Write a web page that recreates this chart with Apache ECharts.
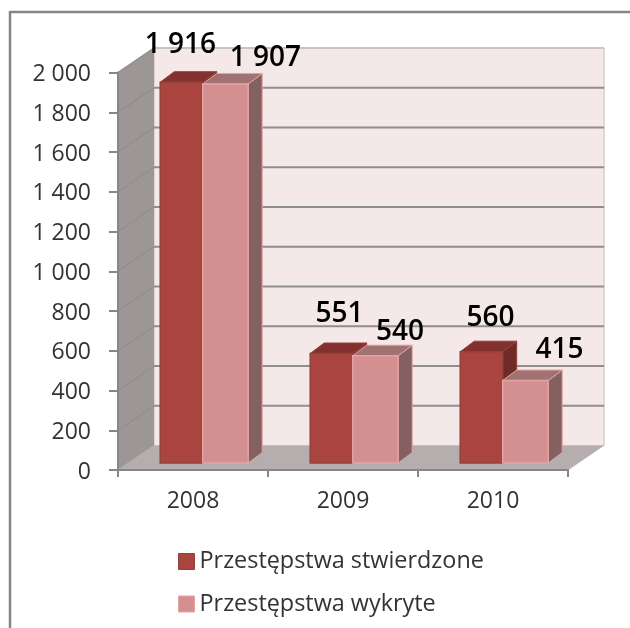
<!DOCTYPE html>
<html>
<head>
<meta charset="utf-8">
<style>html,body{margin:0;padding:0;background:#fff}#c{width:630px;height:628px}</style>
<script src="https://cdn.jsdelivr.net/npm/echarts@6/dist/echarts.min.js"></script>
</head>
<body>
<div id="c"></div>
<script>
const categories = ['2008', '2009', '2010'];
const stwierdzone = [1916, 551, 560];
const wykryte = [1907, 540, 415];
const seriesNames = ['Przestępstwa stwierdzone', 'Przestępstwa wykryte'];
const yTicks = [200, 400, 600, 800, 1000, 1200, 1400, 1600, 1800, 2000];

// Layout of the oblique projection (pixels)
const WALL = { dx: 36, dy: -24.5 };
const PLANE = { dx: 9.7, dy: -7 };
const DEPTH = { dx: 14, dy: -10.5 };
const EXT = [{ from: -42.5, to: 0 }, { from: 0, to: 45.5 }];
const LABEL_SHIFT = [
  [[-1, -37.5], [8, -39.5], [9, -33.5]],
  [[40, -25.5], [24.5, -23.5], [34, -30.5]]
];
const STYLE = [
  { front: '#A9443F', top: '#83312F', side: '#702B29', stroke: '#96403C' },
  { front: '#D49090', top: '#A17272', side: '#856060', stroke: '#E5A2A2' }
];
const FONT = '"Open Sans"';
const fmt = v => String(v).replace(/\B(?=(\d{3})+$)/g, ' ');

function poly(points, fill, stroke, lw) {
  return { type: 'polygon', shape: { points }, style: { fill, stroke: stroke || fill, lineWidth: lw || 0.5 } };
}

function renderWalls(params, api) {
  const g = params.coordSys;
  const L = g.x, R = g.x + g.width, T = g.y, B = g.y + g.height;
  const d = WALL;
  return { type: 'group', children: [
    poly([[L + d.dx, T + d.dy], [R + d.dx, T + d.dy], [R + d.dx, B + d.dy], [L + d.dx, B + d.dy]], '#F4E8E8'),
    { type: 'line', shape: { x1: R + d.dx, y1: T + d.dy, x2: R + d.dx, y2: B + d.dy }, style: { stroke: '#E2D7D7', lineWidth: 2 } },
    poly([[L, T], [L + d.dx, T + d.dy], [L + d.dx, B + d.dy], [L, B]], '#9C9796'),
    poly([[L, B], [L + d.dx, B + d.dy], [R + d.dx, B + d.dy], [R, B]], '#B6AEAE')
  ] };
}

function renderGrid(params, api) {
  const g = params.coordSys;
  const y = api.coord([0, api.value(0)])[1];
  const L = g.x, R = g.x + g.width, d = WALL;
  const isTop = api.value(0) === yTicks[yTicks.length - 1];
  return { type: 'group', children: [
    { type: 'line', shape: { x1: L, y1: y, x2: L + d.dx, y2: y + d.dy }, style: { stroke: '#8F8F8F', lineWidth: 1.5 } },
    { type: 'line', shape: { x1: L + d.dx, y1: y + d.dy, x2: R + d.dx, y2: y + d.dy },
      style: { stroke: isTop ? '#C8C4C4' : '#8E8E8E', lineWidth: 2 } }
  ] };
}

function barRenderer(s) {
  return function (params, api) {
    const i = api.value(0), v = api.value(1);
    const base = api.coord([i, 0]), top = api.coord([i, v]);
    const c = STYLE[s];
    const x0 = base[0] + PLANE.dx + EXT[s].from, x1 = base[0] + PLANE.dx + EXT[s].to;
    const yb = base[1] + PLANE.dy, yt = top[1] + PLANE.dy;
    const dx = DEPTH.dx, dy = DEPTH.dy;
    const shift = LABEL_SHIFT[s][i];
    return { type: 'group', children: [
      poly([[x1, yt], [x1 + dx, yt + dy], [x1 + dx, yb + dy], [x1, yb]], c.side, c.stroke, 1),
      poly([[x0, yt], [x0 + dx, yt + dy], [x1 + dx, yt + dy], [x1, yt]], c.top, c.stroke, 1),
      poly([[x0, yt], [x1, yt], [x1, yb], [x0, yb]], c.front, c.stroke, 1.5),
      { type: 'text', z2: 50, style: {
        text: fmt(v), x: (x0 + x1) / 2 + shift[0], y: yt + shift[1],
        fill: '#000', font: '600 28px ' + FONT, align: 'center', verticalAlign: 'middle' } }
    ] };
  };
}

const chart = echarts.init(document.getElementById('c'), null, { renderer: 'canvas' });
chart.setOption({
  animation: false,
  backgroundColor: '#fff',
  grid: { left: 118, right: 62, top: 72.5, bottom: 158 },
  legend: {
    orient: 'vertical', left: 173, top: 545, itemWidth: 16, itemHeight: 16, itemGap: 19.5,
    data: seriesNames.map((name, s) => ({ name, icon: 'rect', itemStyle: { color: STYLE[s].front, borderColor: STYLE[s].stroke, borderWidth: 1 } })),
    textStyle: { fontFamily: FONT, fontSize: 23.4, color: '#333', padding: [0, 0, 0, 0] }
  },
  xAxis: {
    type: 'category', data: categories, z: 5,
    axisLine: { show: true, lineStyle: { color: '#868686', width: 2 } },
    axisTick: { show: true, length: 7, alignWithLabel: false, lineStyle: { color: '#868686', width: 2 } },
    axisLabel: { fontFamily: FONT, fontSize: 23, color: '#333', margin: 20 },
    splitLine: { show: false }
  },
  yAxis: {
    type: 'value', min: 0, max: 2000, interval: 200, z: 5,
    axisLine: { show: true, lineStyle: { color: '#868686', width: 2 } },
    axisTick: { show: true, length: 9, lineStyle: { color: '#868686', width: 2 } },
    axisLabel: { fontFamily: FONT, fontSize: 23, color: '#333', margin: 27, verticalAlign: 'top', lineHeight: 4, formatter: fmt },
    splitLine: { show: false }
  },
  series: [
    { type: 'custom', name: 'walls', silent: true, z: 1, data: [0], renderItem: renderWalls, encode: { y: 0 } },
    { type: 'custom', name: 'grid', silent: true, z: 2, data: yTicks.map(v => [v]), renderItem: renderGrid, encode: { y: 0 } },
    { type: 'custom', name: seriesNames[0], z: 3, data: stwierdzone.map((v, i) => [i, v]), renderItem: barRenderer(0), encode: { x: 0, y: 1 } },
    { type: 'custom', name: seriesNames[1], z: 4, data: wykryte.map((v, i) => [i, v]), renderItem: barRenderer(1), encode: { x: 0, y: 1 } }
  ],
  graphic: [
    { type: 'line', shape: { x1: 10, y1: 12, x2: 630, y2: 12 }, style: { stroke: '#868686', lineWidth: 2.5 } },
    { type: 'line', shape: { x1: 10, y1: 11, x2: 10, y2: 628 }, style: { stroke: '#868686', lineWidth: 2.5 } }
  ]
});
</script>
</body>
</html>
